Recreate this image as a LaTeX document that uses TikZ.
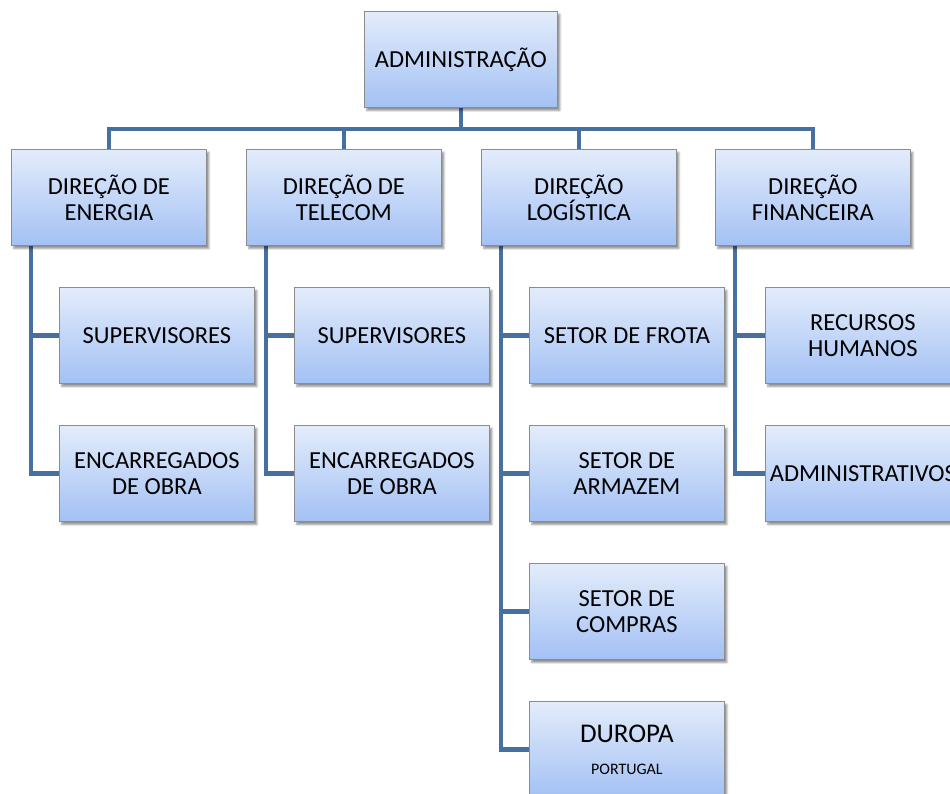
\documentclass[tikz,border=0pt]{standalone}
\usepackage{fontspec}
\setmainfont{Carlito}
\usetikzlibrary{shadows.blur,backgrounds}
\definecolor{boxtop}{HTML}{E3ECFB}
\definecolor{boxbot}{HTML}{A3C1F4}
\definecolor{boxedge}{HTML}{8C8C8C}
\definecolor{linkblue}{HTML}{4670A2}
\tikzset{
  unit/.style={draw=boxedge, line width=0.8pt, top color=boxtop, bottom color=boxbot,
    minimum width=195pt, minimum height=96pt, anchor=north west, align=center,
    inner sep=0pt, font=\fontsize{24.5}{26}\selectfont,
    blur shadow={shadow xshift=2.5pt, shadow yshift=-3pt, shadow blur steps=6, shadow opacity=45}},
  link/.style={draw=linkblue, line width=4.5pt}
}
\begin{document}
\begin{tikzpicture}[x=1pt, y=-1pt]
\useasboundingbox (0,0) rectangle (950,794);
\clip (0,0) rectangle (950,794);
% top
\node[unit, minimum width=193pt] (adm) at (364,11) {ADMINISTRAÇÃO};
% directorates
\node[unit] (en) at (11,149)  {DIREÇÃO DE\\ENERGIA};
\node[unit] (te) at (246,149) {DIREÇÃO DE\\TELECOM};
\node[unit] (lo) at (481,149) {DIREÇÃO\\LOGÍSTICA};
\node[unit] (fi) at (715,149) {DIREÇÃO\\FINANCEIRA};
% energy
\node[unit] (en1) at (59,287) {SUPERVISORES};
\node[unit] (en2) at (59,425) {ENCARREGADOS\\DE OBRA};
% telecom
\node[unit] (te1) at (294,287) {SUPERVISORES};
\node[unit] (te2) at (294,425) {ENCARREGADOS\\DE OBRA};
% logistics
\node[unit] (lo1) at (529,287) {SETOR DE FROTA};
\node[unit] (lo2) at (529,425) {SETOR DE\\ARMAZEM};
\node[unit] (lo3) at (529,563) {SETOR DE\\COMPRAS};
\node[unit] (lo4) at (529,701) {{\fontsize{27}{30}\selectfont DUROPA}\\[6pt]{\fontsize{16}{18}\selectfont PORTUGAL}};
% finance
\node[unit] (fi1) at (765,287) {RECURSOS\\HUMANOS};
\node[unit] (fi2) at (765,425) {ADMINISTRATIVOS};
\begin{scope}[on background layer]
  \draw[link] (adm.south) -- ++(0,22);
  \draw[link] (en.north) -- ++(0,-20) -| (fi.north);
  \draw[link] (te.north) -- ++(0,-20);
  \draw[link] (lo.north) -- ++(0,-20);
  \foreach \p/\c in {en/en1,en/en2,te/te1,te/te2,lo/lo1,lo/lo2,lo/lo3,lo/lo4,fi/fi1,fi/fi2}
    \draw[link] ([xshift=20pt]\p.south west) |- (\c.west);
\end{scope}
\end{tikzpicture}
\end{document}
